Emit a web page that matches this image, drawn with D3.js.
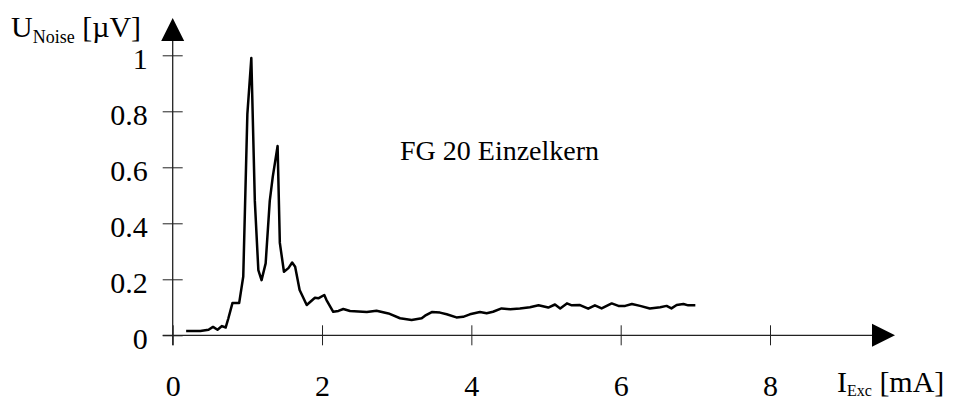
<!DOCTYPE html>
<html>
<head>
<meta charset="utf-8">
<script src="https://cdn.jsdelivr.net/npm/d3@7"></script>
<style>
  body { margin: 0; background: #fff; }
  svg text { font-family: "Liberation Serif", "Times New Roman", serif; fill: #000; }
</style>
</head>
<body>
<div id="chart"></div>
<script>
// excitation current [mA] vs noise voltage [uV]
const current = [0.18, 0.37, 0.48, 0.54, 0.60, 0.66, 0.71, 0.745, 0.80, 0.89, 0.945, 1.0, 1.053,
  1.10, 1.147, 1.19, 1.245, 1.30, 1.34, 1.405, 1.435, 1.49, 1.55, 1.60, 1.64, 1.70, 1.795,
  1.905, 1.95, 2.03, 2.06, 2.15, 2.22, 2.285, 2.375, 2.60, 2.73, 2.89, 3.045, 3.20, 3.335,
  3.38, 3.47, 3.58, 3.67, 3.80, 3.89, 3.98, 4.115, 4.205, 4.29, 4.405, 4.52, 4.65, 4.785,
  4.90, 5.03, 5.12, 5.19, 5.28, 5.345, 5.455, 5.565, 5.655, 5.745, 5.88, 5.97, 6.06, 6.15,
  6.26, 6.39, 6.53, 6.615, 6.68, 6.75, 6.84, 6.905, 7.0];
const noise = [0.015, 0.015, 0.02, 0.03, 0.02, 0.033, 0.028, 0.06, 0.115, 0.115, 0.21, 0.79, 0.99,
  0.48, 0.233, 0.197, 0.257, 0.48, 0.566, 0.676, 0.33, 0.227, 0.24, 0.26, 0.245, 0.162, 0.108,
  0.134, 0.132, 0.144, 0.126, 0.084, 0.087, 0.094, 0.087, 0.083, 0.088, 0.078, 0.061, 0.055, 0.061,
  0.07, 0.083, 0.081, 0.075, 0.064, 0.066, 0.075, 0.083, 0.079, 0.084, 0.096, 0.093, 0.096, 0.1,
  0.107, 0.099, 0.11, 0.096, 0.114, 0.107, 0.108, 0.095, 0.107, 0.096, 0.114, 0.105, 0.105, 0.112,
  0.105, 0.096, 0.1, 0.105, 0.096, 0.108, 0.112, 0.107, 0.107];

const xTicks = [0, 2, 4, 6, 8];
const yTicks = [0, 0.2, 0.4, 0.6, 0.8, 1];
const note = "FG 20 Einzelkern";

const width = 955, height = 401;
const serif = "'Liberation Serif', 'Times New Roman', serif";

const svg = d3.select("#chart").append("svg")
  .attr("width", width)
  .attr("height", height);

const x = d3.scaleLinear().domain([0, 8]).range([172.7, 770]);
const y = d3.scaleLinear().domain([0, 1]).range([335.3, 55.3]);

// y axis, ticks cross the line
const yAxis = svg.append("g")
  .attr("transform", "translate(" + x(0) + ",0)")
  .call(d3.axisLeft(y).tickValues(yTicks).tickSize(10).tickPadding(15).tickFormat(d3.format("~g")));
yAxis.select(".domain").remove();
yAxis.selectAll(".tick line").attr("x1", -10).attr("x2", 10).attr("stroke", "#222");
yAxis.selectAll(".tick text").attr("font-size", 30).attr("dy", "0.45em")
  .style("font-family", serif);

// x axis
const xAxis = svg.append("g")
  .attr("transform", "translate(0," + y(0) + ")")
  .call(d3.axisBottom(x).tickValues(xTicks).tickSize(10).tickPadding(29));
xAxis.select(".domain").remove();
xAxis.selectAll(".tick line").attr("y1", -10).attr("y2", 10).attr("stroke", "#222");
xAxis.selectAll(".tick text").attr("font-size", 30)
  .style("font-family", serif);

// axis lines with arrow heads
svg.append("line")
  .attr("x1", x(0)).attr("x2", x(0))
  .attr("y1", y(0) + 10).attr("y2", 40)
  .attr("stroke", "#222").attr("stroke-width", 1.3);
svg.append("path")
  .attr("d", d3.line()([[x(0), 18], [x(0) + 11.5, 41], [x(0) - 11.5, 41]]) + "Z")
  .attr("fill", "#000");

svg.append("line")
  .attr("x1", x(0) - 10).attr("x2", 873)
  .attr("y1", y(0)).attr("y2", y(0))
  .attr("stroke", "#222").attr("stroke-width", 1.3);
svg.append("path")
  .attr("d", d3.line()([[895, y(0)], [872, y(0) - 11.5], [872, y(0) + 11.5]]) + "Z")
  .attr("fill", "#000");

// axis titles
const yTitle = svg.append("text").attr("x", 11).attr("y", 37).attr("font-size", 30);
yTitle.append("tspan").text("U");
yTitle.append("tspan").attr("font-size", 18).attr("dy", 6).text("Noise");
yTitle.append("tspan").attr("dy", -6).text(" [\u00b5V]");

const xTitle = svg.append("text").attr("x", 837).attr("y", 392).attr("font-size", 30);
xTitle.append("tspan").text("I");
xTitle.append("tspan").attr("font-size", 16).attr("dy", 4).text("Exc");
xTitle.append("tspan").attr("dy", -4).text(" [mA]");

svg.append("text")
  .attr("x", 400).attr("y", 160)
  .attr("font-size", 28)
  .text(note);

// the curve
const line = d3.line()
  .x((d, i) => x(current[i]))
  .y((d, i) => y(noise[i]));

svg.append("path")
  .datum(noise)
  .attr("d", line)
  .attr("fill", "none")
  .attr("stroke", "#000")
  .attr("stroke-width", 2.5)
  .attr("stroke-linejoin", "round");
</script>
</body>
</html>
